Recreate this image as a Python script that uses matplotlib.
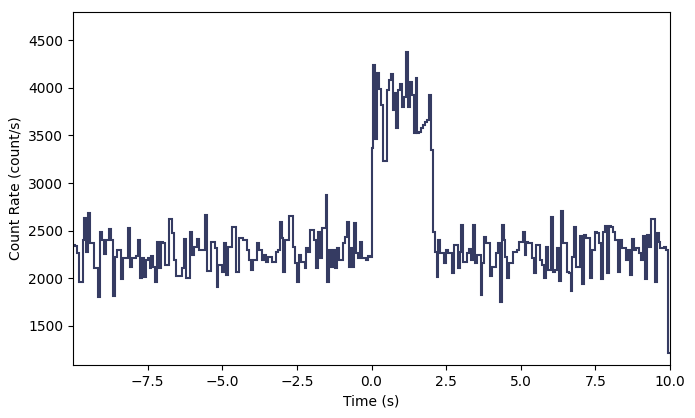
import numpy as np
import matplotlib
matplotlib.use("Agg")
import matplotlib.pyplot as plt

# Count rate per time bin (count/s), bins span -10 s to 10 s
rate_pre = [
    2350, 2340, 2270, 1960, 1960, 2400, 2630, 2280, 2685, 2370,
    2370, 2110, 2110, 1805, 2490, 2400, 2250, 2400, 2400, 2520,
    2400, 1815, 2225, 2300, 2300, 1990, 2210, 2210, 2210, 2525,
    2120, 2210, 2210, 2230, 2400, 2000, 2210, 2015, 2190, 2210,
    2110, 2230, 2120, 1960, 2380,
    2110, 2380, 2370, 2140, 2140, 2620, 2620, 2475, 2190, 2025,
    2025, 2025, 2110, 2410, 2000, 2000, 2485, 2245, 2330, 2330,
    2410, 2295, 2295, 2295, 2665, 2075, 2075, 2380, 2380, 2320,
    1910, 2140, 2140, 2070, 2370, 2035, 2330, 2330, 2540, 2540,
    2070, 2070, 2420, 2420,
    2400, 2400, 2295, 2190, 2085, 2190, 2190, 2370, 2295, 2295,
    2190, 2245, 2170, 2225, 2225, 2170, 2170, 2275, 2295, 2590,
    2420, 2065, 2400, 2400, 2655, 2655, 2330, 2160, 1960, 2245,
    2170, 2170, 2110, 2320, 2275, 2505, 2505, 2400, 2110, 2485,
    2215, 2530, 2530, 2875, 1960, 2295,
    2120, 2300, 2110, 2320, 2190, 2190, 2370, 2435, 2590, 2120,
    2320, 2120, 2580, 2265, 2210, 2380, 2210, 2210, 2190, 2235,
    2225,
]
rate_burst = [
    3367, 4238, 3460, 4154, 3990, 3818, 3231, 3231, 3975, 4080,
    4143, 3766, 3940, 3577, 3975, 4040, 3800, 3900, 4374, 3800,
    4058, 3920, 3530, 4100, 3530, 3540, 3580, 3610, 3640, 3660,
    3925, 3346,
]
rate_post = [
    2485, 2280, 2015, 2400, 2265, 2265, 2160, 2295, 2265, 2265,
    2056, 2350, 2350, 2110, 2280, 2560, 2170, 2170, 2265, 2310,
    2190, 2560, 2160, 2245, 2245, 1825, 2160, 2435, 2370, 2370,
    2025, 2120, 2120, 2265, 2370, 1750, 2560, 2400, 2225, 2000,
    2160, 2160, 2280,
    2280, 2295, 2380, 2380, 2486, 2245, 2380, 2370, 2370, 2210,
    2056, 2350, 2350, 2190, 2140, 2003, 2330, 2085, 2085, 2643,
    2070, 2085, 2320, 1972, 2706, 2370, 2370, 2070, 2056, 1867,
    2225, 2538, 2120, 2120, 2445, 1940, 2454, 2420, 2420, 2003,
    2295, 2295, 2486,
    2475, 2370, 1993, 2486, 2550, 2056, 2550, 2538, 2486, 2400,
    2400, 2067, 2400, 2320, 2320, 2190, 2295, 2035, 2410, 2295,
    2320, 2320, 2265, 2190, 2445, 1993, 2454, 2330, 2622, 2622,
    1962, 2475, 2380, 2320, 2320, 2330, 2295, 1217,
]
t_start, t_end = -10.0, 10.0

rates = np.array(rate_pre + rate_burst + rate_post, dtype=float)
edges = np.linspace(t_start, t_end, len(rates) + 1)

fig = plt.figure(figsize=(6.95, 4.18), dpi=100)
ax = fig.add_axes([73 / 695, 1 - 365 / 418, (670 - 73) / 695, (365 - 12) / 418])
ax.stairs(rates, edges, baseline=None, color="#353b62", linewidth=1.5)

ax.set_xlim(t_start, t_end)
ax.set_ylim(1090, 4795)
ax.set_xticks([-7.5, -5.0, -2.5, 0.0, 2.5, 5.0, 7.5, 10.0])
ax.set_yticks([1500, 2000, 2500, 3000, 3500, 4000, 4500])
ax.set_xlabel("Time (s)")
ax.set_ylabel("Count Rate (count/s)")

fig.savefig("out.png", dpi=100)
